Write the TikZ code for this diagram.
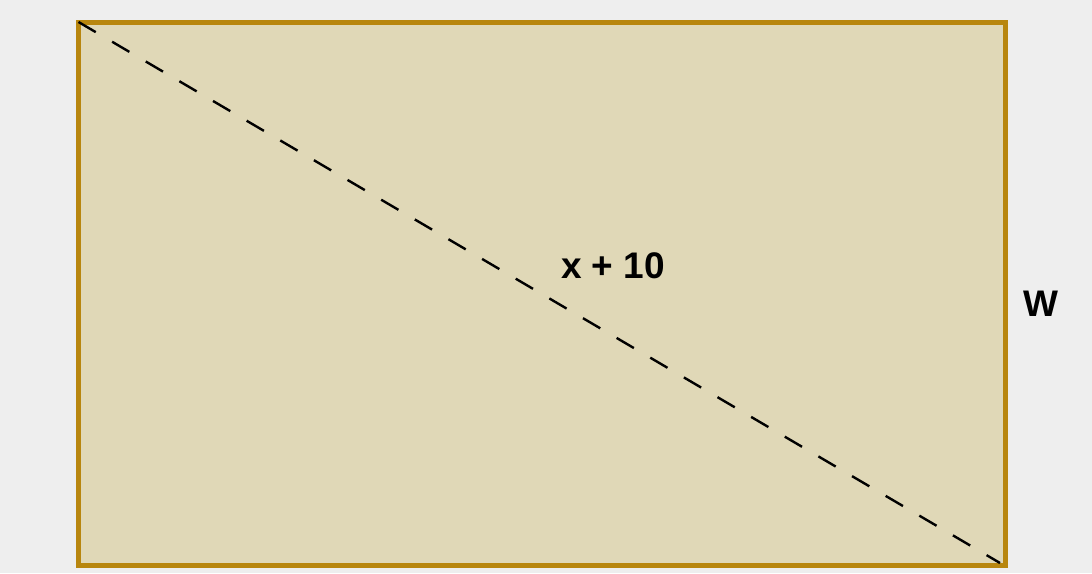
\documentclass[tikz,border=0pt]{standalone}
\usepackage{fontspec}
\setmainfont{Liberation Sans}
\definecolor{bgc}{HTML}{EEEEEE}
\definecolor{fillc}{HTML}{E0D8B7}
\definecolor{edgec}{HTML}{B8860E}
\tikzset{
  plate/.style={draw=edgec, fill=fillc, line width=5pt},
  diag/.style={black, line width=2.4pt, dash pattern=on 20pt off 19pt},
  lbl/.style={inner sep=0pt, font=\fontsize{37}{42}\selectfont\bfseries, text=black}
}
\begin{document}
\begin{tikzpicture}[x=1pt,y=-1pt]
\fill[bgc] (0,0) rectangle (1092,573);
\useasboundingbox (0,0) rectangle (1092,573);
\coordinate (tl) at (78.5,22);
\coordinate (br) at (1005,565);
\coordinate (de) at (1000,563);
\draw[plate] (tl) rectangle (br);
\draw[diag] (tl) -- (de);
\node[lbl] (len) at (613,266) {x + 10};
\node[lbl] (wid) at (1041,304) {W};
\end{tikzpicture}
\end{document}
